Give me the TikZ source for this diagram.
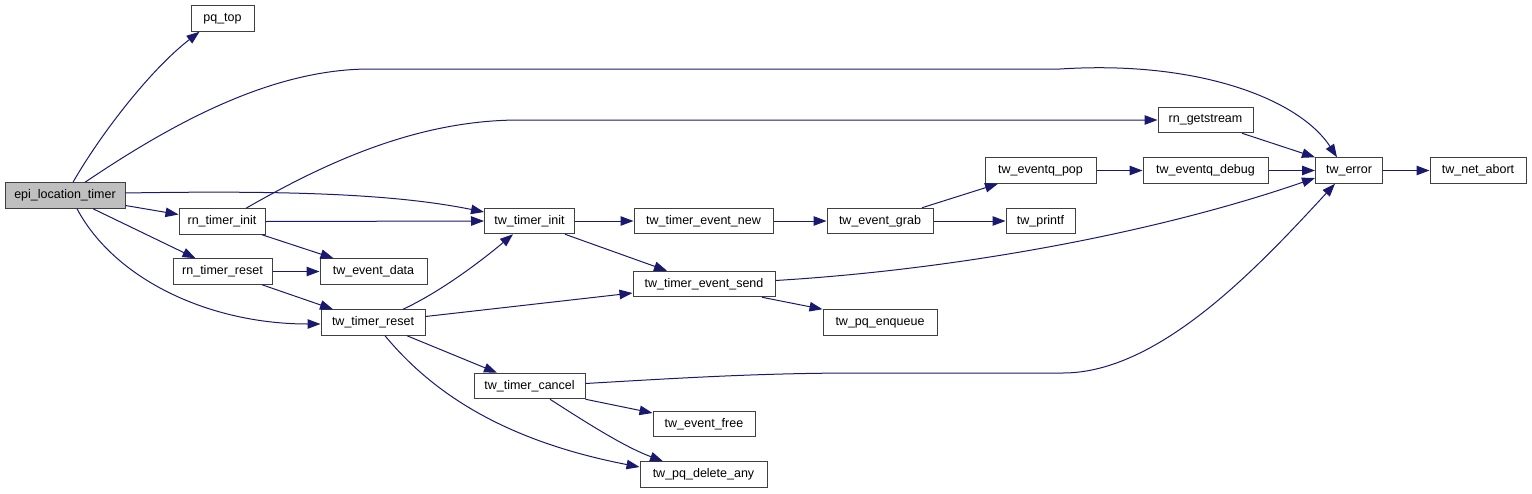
\documentclass[tikz,border=0pt]{standalone}
\usepackage{fontspec}
\setmainfont{Liberation Sans}
\usetikzlibrary{arrows.meta}
\definecolor{callblue}{HTML}{191970}
\definecolor{rootgray}{HTML}{BFBFBF}
\definecolor{framegray}{HTML}{404040}

\begin{document}
\begin{tikzpicture}[
  x=1pt, y=-1pt,
  fn/.style={draw=framegray, fill=white, line width=1pt, minimum height=25.5pt, inner sep=0pt, font=\fontsize{12.5}{14}\selectfont},
  arr/.style={-{Triangle[length=13pt,width=9.5pt]}, callblue, line width=1pt}
]
  \useasboundingbox (0,0) rectangle (1532,493);

  \node[fn, fill=rootgray, minimum width=120pt] (epi) at (65,195.5) {epi\_location\_timer};
  \node[fn, minimum width=63pt] (pqtop) at (222.5,18.5) {pq\_top};
  \node[fn, minimum width=86pt] (rninit) at (222,221.5) {rn\_timer\_init};
  \node[fn, minimum width=99pt] (rnreset) at (222.5,271.5) {rn\_timer\_reset};
  \node[fn, minimum width=107pt] (evdata) at (373.5,271.5) {tw\_event\_data};
  \node[fn, minimum width=104pt] (twreset) at (373,322.5) {tw\_timer\_reset};
  \node[fn, minimum width=90pt] (twinit) at (529.5,221) {tw\_timer\_init};
  \node[fn, minimum width=111pt] (cancel) at (529.5,386) {tw\_timer\_cancel};
  \node[fn, minimum width=139pt] (evnew) at (703.5,221) {tw\_timer\_event\_new};
  \node[fn, minimum width=142pt] (evsend) at (704,284) {tw\_timer\_event\_send};
  \node[fn, minimum width=102pt] (evfree) at (704,424) {tw\_event\_free};
  \node[fn, minimum width=127pt] (pqdel) at (703.5,474.5) {tw\_pq\_delete\_any};
  \node[fn, minimum width=106pt] (grab) at (880,221) {tw\_event\_grab};
  \node[fn, minimum width=114pt] (pqenq) at (880,322.5) {tw\_pq\_enqueue};
  \node[fn, minimum width=111pt] (qpop) at (1040.5,170.5) {tw\_eventq\_pop};
  \node[fn, minimum width=69pt] (printf) at (1040.5,221) {tw\_printf};
  \node[fn, minimum width=95pt] (getstream) at (1205.5,120) {rn\_getstream};
  \node[fn, minimum width=125pt] (qdebug) at (1205.5,170.5) {tw\_eventq\_debug};
  \node[fn, minimum width=67pt] (twerr) at (1349,170.5) {tw\_error};
  \node[fn, minimum width=96pt] (abort) at (1478,170.5) {tw\_net\_abort};

  \draw[arr] ([xshift=8pt]epi.north) .. controls (100,135) and (150,70) .. ([xshift=9pt]pqtop.south west);
  \draw[arr] ([xshift=20pt]epi.north) .. controls (170,125) and (270,69) .. (370,69) -- (1060,69) .. controls (1200,60) and (1300,100) .. ([xshift=-12pt]twerr.north);
  \draw[arr] ([yshift=2.5pt]epi.east) .. controls (300,190) and (400,195) .. ([yshift=9pt]twinit.west);
  \draw[arr] ([yshift=-10pt]epi.east) -- ([yshift=7pt]rninit.west);
  \draw[arr] ([xshift=28pt]epi.south) -- ([xshift=-27pt]rnreset.north);
  \draw[arr] ([xshift=12pt]epi.south) .. controls (115,280) and (210,324) .. ([yshift=-1.5pt]twreset.west);
  \draw[arr] ([xshift=24pt]rninit.north) .. controls (330,160) and (420,120) .. (520,120) -- (getstream.west);
  \draw[arr] (rninit.east) -- (twinit.west);
  \draw[arr] ([xshift=40pt]rninit.south) -- ([xshift=-40pt]evdata.north);
  \draw[arr] (rnreset) -- (evdata);
  \draw[arr] ([xshift=39.5pt]rnreset.south) -- ([xshift=-40pt]twreset.north);
  \draw[arr] ([xshift=30pt]twreset.north) .. controls (440,292) and (480,262) .. ([xshift=-16.5pt]twinit.south);
  \draw[arr] ([yshift=6pt]twreset.east) -- ([yshift=-9pt]evsend.west);
  \draw[arr] ([xshift=34pt]twreset.south) -- ([xshift=-32.5pt]cancel.north);
  \draw[arr] ([xshift=12pt]twreset.south) .. controls (430,390) and (500,440) .. ([yshift=7.5pt]pqdel.west);
  \draw[arr] (twinit) -- (evnew);
  \draw[arr] ([xshift=35.5pt]twinit.south) -- ([xshift=-37pt]evsend.north);
  \draw[arr] (evnew) -- (grab);
  \draw[arr] ([xshift=42pt]grab.north) -- ([xshift=-42.5pt]qpop.south);
  \draw[arr] (grab) -- (printf);
  \draw[arr] (qpop) -- (qdebug);
  \draw[arr] (qdebug) -- (twerr);
  \draw[arr] ([xshift=36.5pt]getstream.south) -- (twerr.north west);
  \draw[arr] ([yshift=3.5pt]evsend.east) .. controls (950,270) and (1150,235) .. ([yshift=-7.5pt]twerr.west);
  \draw[arr] ([xshift=58pt]evsend.south) -- (pqenq.north west);
  \draw[arr] ([yshift=2.5pt]cancel.east) .. controls (680,378) and (760,373) .. (860,373) -- (1063,373) .. controls (1160,373) and (1260,265) .. ([xshift=-14pt]twerr.south);
  \draw[arr] (cancel.south east) -- ([yshift=11pt]evfree.west);
  \draw[arr] ([xshift=20.5pt]cancel.south) .. controls (590,425) and (625,447) .. ([xshift=-40.5pt]pqdel.north);
  \draw[arr] (twerr) -- (abort);
\end{tikzpicture}
\end{document}
